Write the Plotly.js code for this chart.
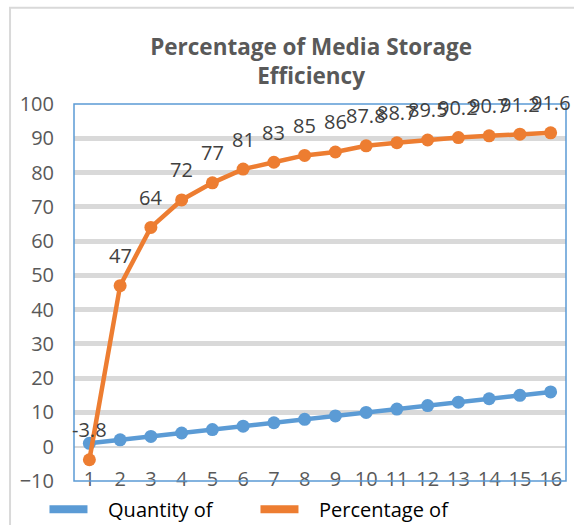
<!DOCTYPE html>
<html>
<head>
<meta charset="utf-8">
<script src="https://cdn.plot.ly/plotly-3.0.1.min.js"></script>
<style>
  html, body { margin: 0; padding: 0; background: #ffffff; }
  #chart { width: 574px; height: 525px; }
</style>
</head>
<body>
<div id="chart"></div>
<script>
// Step index along the horizontal axis
const steps = [1, 2, 3, 4, 5, 6, 7, 8, 9, 10, 11, 12, 13, 14, 15, 16];
// Quantity of media storage
const quantity = [1, 2, 3, 4, 5, 6, 7, 8, 9, 10, 11, 12, 13, 14, 15, 16];
// Percentage of media storage efficiency
const percentage = [-3.8, 47, 64, 72, 77, 81, 83, 85, 86, 87.8, 88.7, 89.5, 90.2, 90.7, 91.2, 91.6];
const yTicks = [-10, 0, 10, 20, 30, 40, 50, 60, 70, 80, 90, 100];
const seriesNames = ['Quantity of<br>Media Storage', 'Percentage of<br>Media Storage Efficiency'];

const BLUE = '#5B9BD5';
const ORANGE = '#ED7D31';
const GRID = '#d9d9d9';
const AXIS_TEXT = '#595959';
const FONT = 'Open Sans, sans-serif';
const PAD = '\u00a0\u00a0\u00a0';

const traces = [
  {
    x: steps, y: quantity, type: 'scatter', mode: 'lines+markers',
    name: seriesNames[0], showlegend: false,
    line: { color: BLUE, width: 4.5 },
    marker: { color: BLUE, size: 13 }
  },
  {
    x: steps, y: percentage, type: 'scatter', mode: 'lines+markers',
    name: seriesNames[1], showlegend: false,
    line: { color: ORANGE, width: 4.5 },
    marker: { color: ORANGE, size: 13 }
  },
  // legend keys: plain line swatches
  {
    x: [null], y: [null], type: 'scatter', mode: 'lines',
    name: PAD + seriesNames[0],
    line: { color: BLUE, width: 8 }, hoverinfo: 'skip'
  },
  {
    x: [null], y: [null], type: 'scatter', mode: 'lines',
    name: PAD + seriesNames[1],
    line: { color: ORANGE, width: 8 }, hoverinfo: 'skip'
  }
];

// value labels above the percentage points
const valueLabels = steps.map((s, i) => ({
  x: s, y: percentage[i], xref: 'x', yref: 'y',
  text: String(percentage[i]), showarrow: false,
  yshift: 30, font: { family: FONT, size: 20, color: '#404040' }
}));

const layout = {
  width: 574, height: 525,
  paper_bgcolor: '#ffffff', plot_bgcolor: '#ffffff',
  margin: { l: 74, r: 8, t: 104, b: 44, autoexpand: false },
  title: {
    text: '<b>Percentage of Media Storage<br>Efficiency</b>',
    x: 0.542, xanchor: 'center', xref: 'container',
    y: 1 - 55 / 525, yanchor: 'top', yref: 'container',
    font: { family: FONT, size: 22.5, color: AXIS_TEXT }
  },
  xaxis: {
    range: [0.5, 16.5], tickmode: 'array', tickvals: steps, ticktext: steps.map(String),
    showgrid: false, zeroline: false, showline: false, ticks: '',
    ticklabelstandoff: -16,
    tickfont: { family: FONT, size: 20, color: AXIS_TEXT }
  },
  yaxis: {
    range: [-10, 100], tickmode: 'array', tickvals: yTicks,
    showgrid: true, gridcolor: GRID, gridwidth: 5,
    zeroline: true, zerolinecolor: GRID, zerolinewidth: 2,
    showline: false, ticks: '', ticklabelstandoff: 19,
    tickfont: { family: FONT, size: 20, color: AXIS_TEXT }
  },
  showlegend: true,
  legend: {
    orientation: 'h', x: -0.060, xanchor: 'left', y: -0.023, yanchor: 'top',
    valign: 'top', entrywidth: 158, itemwidth: 38,
    font: { family: FONT, size: 20, color: '#000000' },
    bgcolor: 'rgba(0,0,0,0)'
  },
  shapes: [
    // outer chart frame
    { type: 'rect', xref: 'paper', yref: 'paper', x0: -0.130, x1: 1.2, y0: -0.3, y1: 1.255,
      line: { color: GRID, width: 2 }, fillcolor: 'rgba(0,0,0,0)', layer: 'below' },
    // plot-area frame
    { type: 'rect', xref: 'paper', yref: 'paper', x0: 0, x1: 1, y0: 0, y1: 1,
      line: { color: BLUE, width: 1.5 }, fillcolor: 'rgba(0,0,0,0)', layer: 'above' }
  ],
  annotations: valueLabels
};

Plotly.newPlot('chart', traces, layout, { displayModeBar: false, staticPlot: true });
</script>
</body>
</html>
